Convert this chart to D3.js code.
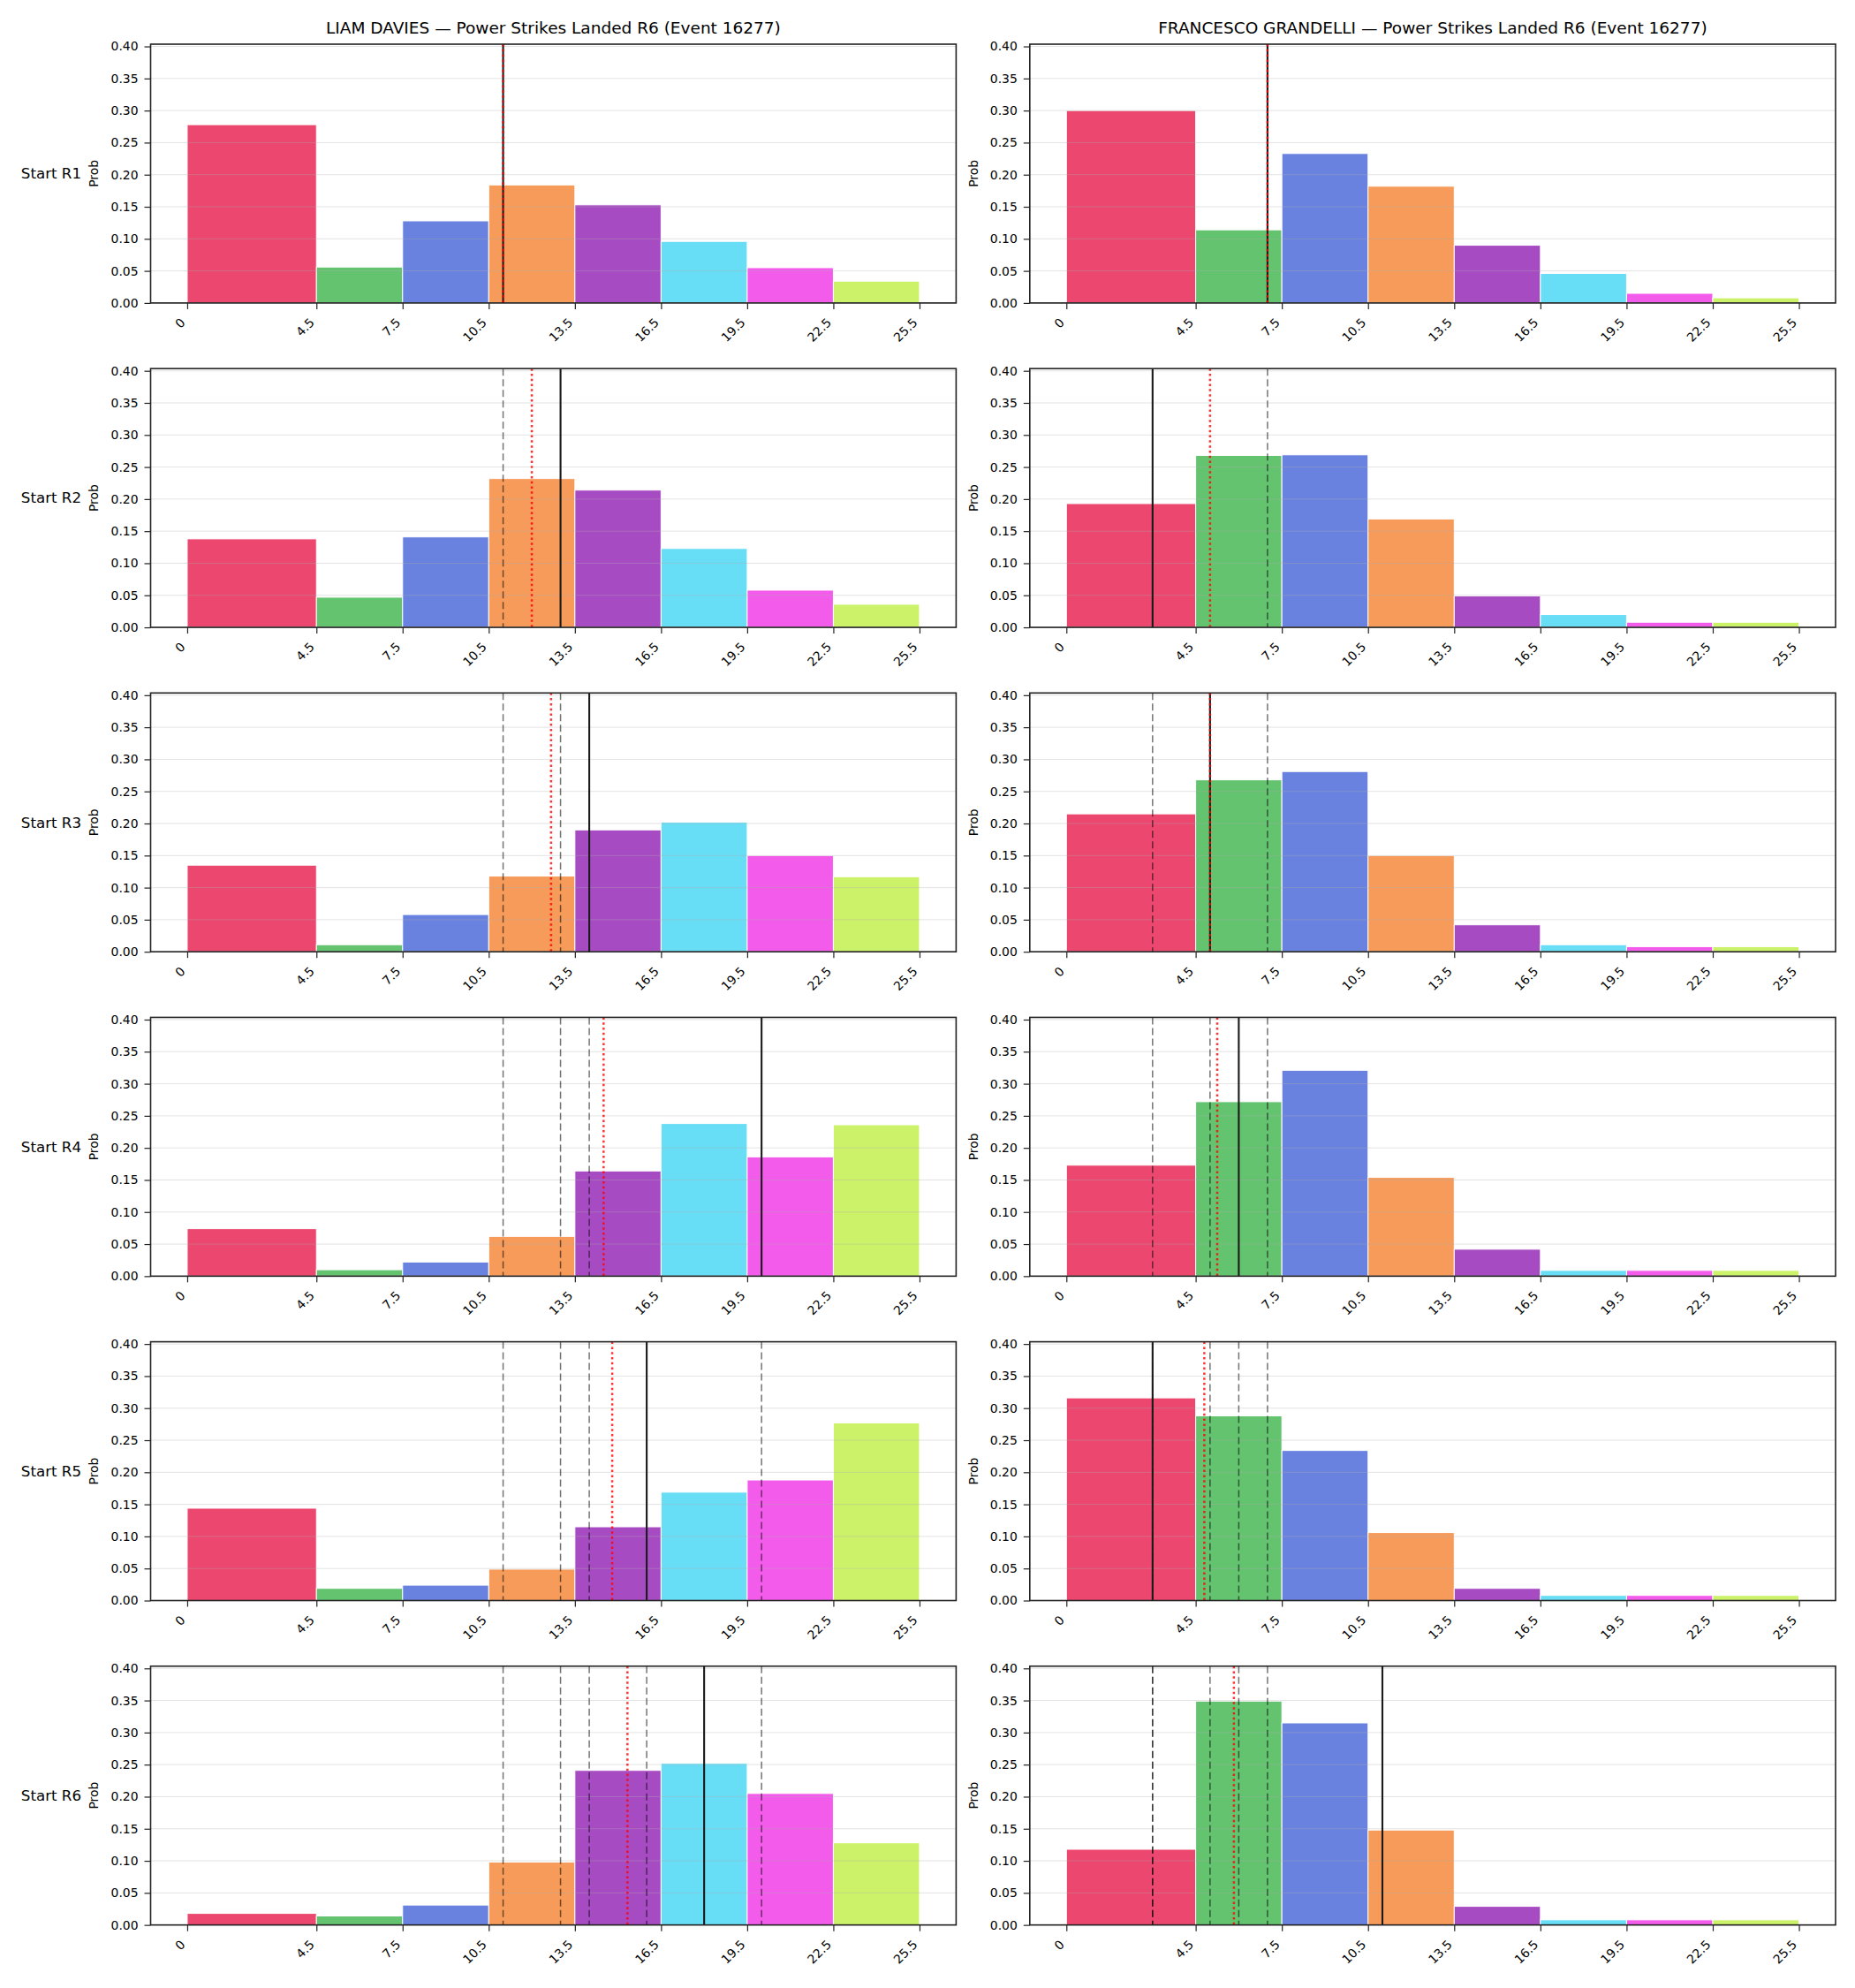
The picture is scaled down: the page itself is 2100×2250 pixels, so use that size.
<!DOCTYPE html>
<html><head><meta charset="utf-8">
<script src="https://cdn.jsdelivr.net/npm/d3@7"></script>
<style>
body{margin:0;background:#fff}
svg text{font-family:"DejaVu Sans",sans-serif}
</style>
</head><body><svg id="c" width="2100" height="2250"></svg>
<script>
// ---------------- DATA ----------------
const binEdges = [0, 4.5, 7.5, 10.5, 13.5, 16.5, 19.5, 22.5, 25.5];
const xTickLabels = ["0", "4.5", "7.5", "10.5", "13.5", "16.5", "19.5", "22.5", "25.5"];
const yTickValues = [0, 0.05, 0.10, 0.15, 0.20, 0.25, 0.30, 0.35, 0.40];
const rowLabels = ["Start R1", "Start R2", "Start R3", "Start R4", "Start R5", "Start R6"];
const fighters = ["LIAM DAVIES", "FRANCESCO GRANDELLI"];
const titleSuffix = " \u2014 Power Strikes Landed R6 (Event 16277)";

const daviesProbs = [
  [0.278, 0.056, 0.128, 0.184, 0.153, 0.096, 0.055, 0.034],
  [0.138, 0.047, 0.141, 0.232, 0.214, 0.123, 0.058, 0.036],
  [0.135, 0.011, 0.058, 0.118, 0.190, 0.202, 0.150, 0.117],
  [0.074, 0.010, 0.022, 0.062, 0.164, 0.238, 0.186, 0.236],
  [0.144, 0.019, 0.024, 0.049, 0.115, 0.169, 0.188, 0.277],
  [0.018, 0.014, 0.031, 0.098, 0.241, 0.252, 0.205, 0.128]
];
const grandelliProbs = [
  [0.300, 0.114, 0.233, 0.182, 0.090, 0.046, 0.015, 0.008],
  [0.193, 0.268, 0.269, 0.169, 0.049, 0.020, 0.008, 0.008],
  [0.215, 0.268, 0.281, 0.150, 0.042, 0.011, 0.008, 0.008],
  [0.173, 0.272, 0.321, 0.154, 0.042, 0.009, 0.009, 0.009],
  [0.316, 0.288, 0.234, 0.106, 0.019, 0.008, 0.008, 0.008],
  [0.118, 0.349, 0.315, 0.148, 0.029, 0.008, 0.008, 0.008]
];
// solid black line per row (value at round start)
const daviesActual = [11, 13, 14, 20, 16, 18];
const grandelliActual = [7, 3, 5, 6, 3, 11];
// red dotted line per row
const daviesMean = [11, 12, 12.67, 14.5, 14.8, 15.33];
const grandelliMean = [7, 5, 5, 5.25, 4.8, 5.83];

// ---------------- STYLE ----------------
const binColors = ["#e6194b", "#3cb44b", "#4363d8", "#f58231", "#911eb4", "#42d4f4", "#f032e6", "#bfef45"];

const svg = d3.select("#c");
const cols = [
  {name: fighters[0], probs: daviesProbs, actual: daviesActual, mean: daviesMean, x0: 170.5, x1: 1082.4},
  {name: fighters[1], probs: grandelliProbs, actual: grandelliActual, mean: grandelliMean, x0: 1165.8, x1: 2078}
];
const firstTop = 50, rowStep = 367.15, axH = 292.9;

cols.forEach((col, ci) => {
  svg.append("text")
    .attr("x", (col.x0 + col.x1) / 2).attr("y", 38)
    .attr("text-anchor", "middle").attr("font-size", "18.5px").attr("fill", "#000")
    .text(col.name + titleSuffix);

  col.probs.forEach((probs, r) => {
    const top = firstTop + r * rowStep, bottom = top + axH;
    const x = d3.scaleLinear().domain([-1.275, 26.775]).range([col.x0, col.x1]);
    const y = d3.scaleLinear().domain([0, 0.4035]).range([bottom, top]);
    const g = svg.append("g");

    g.selectAll("rect.bar").data(probs).enter().append("rect")
      .attr("class", "bar")
      .attr("x", (d, i) => x(binEdges[i]))
      .attr("width", (d, i) => x(binEdges[i + 1]) - x(binEdges[i]))
      .attr("y", d => y(d))
      .attr("height", d => y(0) - y(d))
      .attr("fill", (d, i) => binColors[i]).attr("fill-opacity", 0.8)
      .attr("stroke", "#fff").attr("stroke-width", 1);

    g.selectAll("line.grid").data(yTickValues).enter().append("line")
      .attr("x1", col.x0).attr("x2", col.x1)
      .attr("y1", d => y(d)).attr("y2", d => y(d))
      .attr("stroke", "#b0b0b0").attr("stroke-opacity", 0.35).attr("stroke-width", 1);

    const prev = col.actual.slice(0, r);
    g.selectAll("line.prev").data(prev).enter().append("line")
      .attr("x1", d => x(d)).attr("x2", d => x(d))
      .attr("y1", top).attr("y2", bottom)
      .attr("stroke", "#000").attr("stroke-opacity", 0.55).attr("stroke-width", 1.5)
      .attr("stroke-dasharray", "8,4");

    g.append("line")
      .attr("x1", x(col.actual[r])).attr("x2", x(col.actual[r]))
      .attr("y1", top).attr("y2", bottom)
      .attr("stroke", "#1a1a1a").attr("stroke-width", 2.1);

    g.append("line")
      .attr("x1", x(col.mean[r])).attr("x2", x(col.mean[r]))
      .attr("y1", top).attr("y2", bottom)
      .attr("stroke", "#ff0000").attr("stroke-opacity", 0.8).attr("stroke-width", 2.5)
      .attr("stroke-dasharray", "2.5,3.3");

    const ya = g.append("g").attr("transform", `translate(${col.x0},0)`)
      .call(d3.axisLeft(y).tickValues(yTickValues).tickFormat(d3.format(".2f")).tickSize(7).tickPadding(7));
    ya.select(".domain").remove();
    ya.selectAll("line").attr("stroke", "#222").attr("stroke-width", 1.2);
    ya.selectAll("text").attr("font-size", "13.9px").attr("fill", "#000").attr("font-family", "DejaVu Sans");

    const xa = g.append("g").attr("transform", `translate(0,${bottom})`)
      .call(d3.axisBottom(x).tickValues(binEdges).tickFormat((d, i) => xTickLabels[i]).tickSize(7));
    xa.select(".domain").remove();
    xa.selectAll("line").attr("stroke", "#222").attr("stroke-width", 1.2);
    xa.selectAll("text")
      .attr("x", 0).attr("y", 0).attr("dy", null)
      .attr("text-anchor", "end")
      .attr("transform", "translate(-2,23) rotate(-45)")
      .attr("font-size", "13.9px").attr("fill", "#000").attr("font-family", "DejaVu Sans");

    g.append("rect")
      .attr("x", col.x0).attr("y", top).attr("width", col.x1 - col.x0).attr("height", axH)
      .attr("fill", "none").attr("stroke", "#222").attr("stroke-width", 1.6);

    g.append("text")
      .attr("transform", `translate(${col.x0 - 64},${(top + bottom) / 2}) rotate(-90)`)
      .attr("text-anchor", "middle").attr("dy", "0.35em")
      .attr("font-size", "13.9px").attr("fill", "#000")
      .text("Prob");

    if (ci === 0) {
      g.append("text")
        .attr("x", 92).attr("y", (top + bottom) / 2).attr("dy", "0.35em")
        .attr("text-anchor", "end").attr("font-size", "16.67px").attr("fill", "#000")
        .text(rowLabels[r]);
    }
  });
});
</script></body></html>
